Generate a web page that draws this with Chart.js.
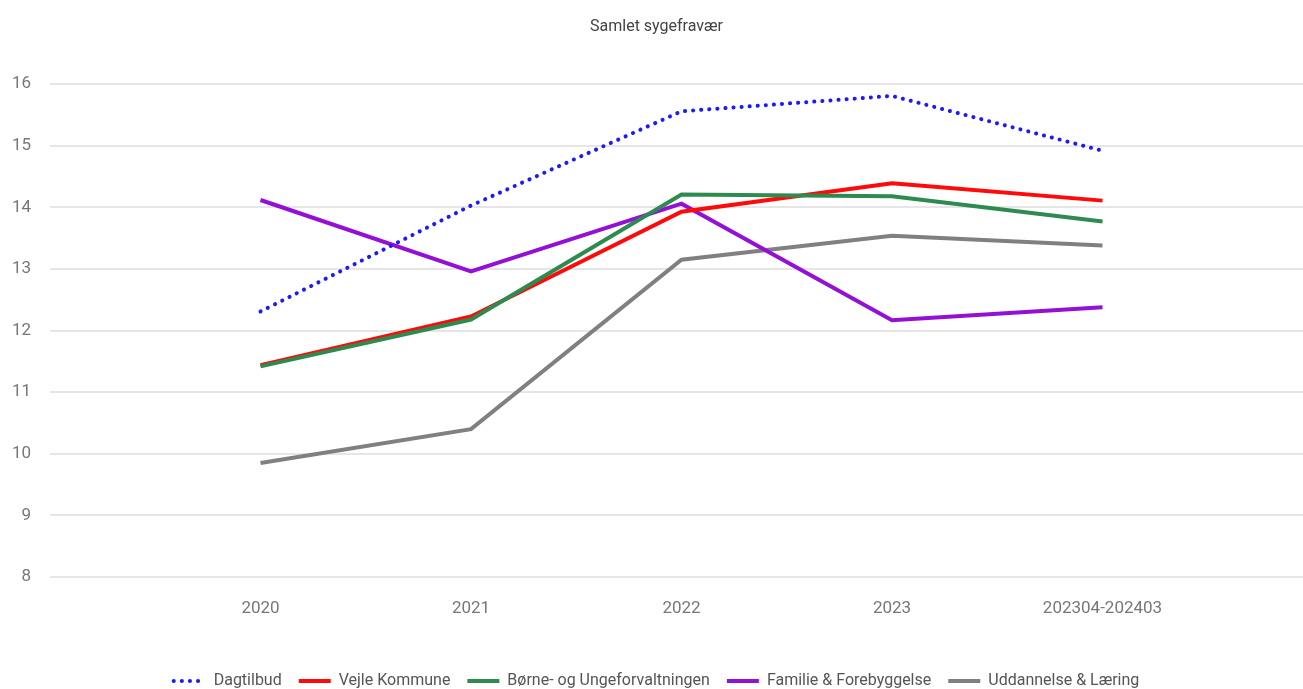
<!DOCTYPE html>
<html>
<head>
<meta charset="utf-8">
<script src="https://cdn.jsdelivr.net/npm/chart.js@4"></script>
<style>
  html, body { margin: 0; padding: 0; background: #fff; overflow: hidden; }
  #lineChart { position: absolute; left: 0; top: 0; }
</style>
</head>
<body>
<canvas id="lineChart" width="1313" height="699"></canvas>
<script>
// Samlet sygefravaer - data
const categories = ['', '2020', '2021', '2022', '2023', '202304-202403', ''];
const dagtilbud = [null, 12.31, 14.03, 15.56, 15.81, 14.92, null];
const vejleKommune = [null, 11.44, 12.23, 13.93, 14.39, 14.11, null];
const borneUnge = [null, 11.42, 12.18, 14.21, 14.18, 13.77, null];
const familieForebyggelse = [null, 14.12, 12.96, 14.06, 12.17, 12.38, null];
const uddannelseLaering = [null, 9.85, 10.40, 13.15, 13.54, 13.38, null];
const yTicks = [8, 9, 10, 11, 12, 13, 14, 15, 16];

const baseFont = 'Roboto, "Open Sans", sans-serif';

function lineSet(label, data, color, order) {
    return {
        label: label,
        data: data,
        borderColor: color,
        backgroundColor: color,
        borderWidth: 4,
        pointRadius: 0,
        tension: 0,
        fill: false,
        order: order
    };
}

const dotted = lineSet('Dagtilbud', dagtilbud, '#1a1aff', 0);
dotted.borderDash = [0.1, 8];
dotted.borderCapStyle = 'round';

const ctx = document.getElementById('lineChart').getContext('2d');
new Chart(ctx, {
type: 'line',
data: {
    labels: categories,
    datasets: [
        dotted,
        lineSet('Vejle Kommune', vejleKommune, '#ff0a0a', 2),
        lineSet('Børne- og Ungeforvaltningen', borneUnge, '#2e8b4f', 1),
        lineSet('Familie & Forebyggelse', familieForebyggelse, '#9410d6', 3),
        lineSet('Uddannelse & Læring', uddannelseLaering, '#808080', 4)
    ]
},
options: {
    responsive: false,
    animation: false,
    layout: { padding: 0 },
    plugins: {
        title: {
            display: true,
            text: 'Samlet sygefravær',
            color: '#444',
            font: { family: baseFont, size: 16, weight: 'normal' },
            padding: { top: 17, bottom: 48 }
        },
        legend: {
            position: 'bottom',
            labels: {
                usePointStyle: true,
                pointStyle: 'line',
                pointStyleWidth: 32,
                padding: 17,
                color: '#555',
                font: { family: baseFont, size: 16 },
                sort: (a, b) => a.datasetIndex - b.datasetIndex,
                generateLabels: (chart) => {
                    const items = Chart.defaults.plugins.legend.labels.generateLabels(chart);
                    items.forEach(item => {
                        const ds = chart.data.datasets[item.datasetIndex];
                        item.lineWidth = 4;
                        item.strokeStyle = ds.borderColor;
                        item.lineDash = ds.borderDash || [];
                        item.lineCap = ds.borderCapStyle || 'butt';
                    });
                    return items;
                }
            }
        },
        tooltip: { enabled: false }
    },
    scales: {
        y: {
            min: 8,
            max: 16,
            afterBuildTicks: (s) => { s.ticks = yTicks.map(v => ({ value: v })); },
            afterFit: (s) => { s.width = 50; },
            border: { display: false },
            grid: { color: '#e6e6e6', lineWidth: 2, drawTicks: false },
            ticks: {
                padding: 19,
                color: '#777',
                font: { family: baseFont, size: 17 }
            }
        },
        x: {
            afterFit: (s) => {
                s.height = 79;
                s.paddingLeft = 0;
                s.paddingRight = 0;
            },
            border: { display: false },
            grid: { display: false, drawTicks: false },
            ticks: {
                padding: 22,
                autoSkip: false,
                maxRotation: 0,
                color: '#777',
                font: { family: baseFont, size: 17 }
            }
        }
    }
}
});
</script>
</body>
</html>
